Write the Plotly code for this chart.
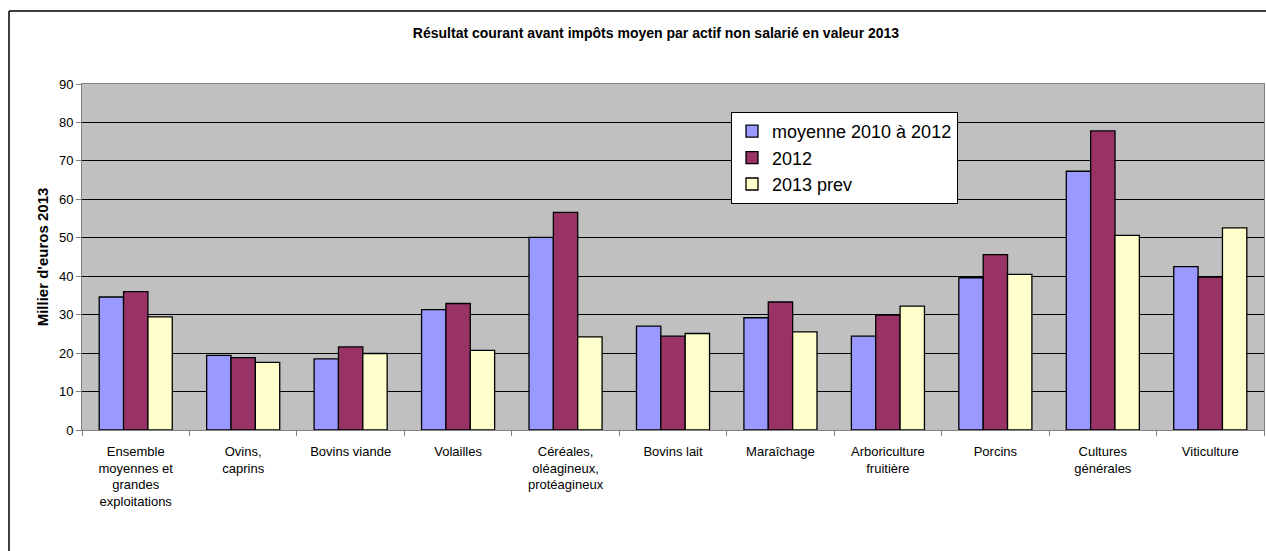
import plotly.graph_objects as go

categories = [
    "Ensemble<br>moyennes et<br>grandes<br>exploitations",
    "Ovins,<br>caprins",
    "Bovins viande",
    "Volailles",
    "Céréales,<br>oléagineux,<br>protéagineux",
    "Bovins lait",
    "Maraîchage",
    "Arboriculture<br>fruitière",
    "Porcins",
    "Cultures<br>générales",
    "Viticulture",
]
moyenne_2010_2012 = [34.6, 19.4, 18.5, 31.3, 50.1, 27.0, 29.2, 24.4, 39.6, 67.3, 42.5]
val_2012 = [36.0, 18.8, 21.6, 32.9, 56.6, 24.4, 33.3, 29.9, 45.6, 77.8, 39.8]
val_2013_prev = [29.4, 17.6, 19.9, 20.7, 24.2, 25.1, 25.5, 32.2, 40.5, 50.6, 52.6]
series_names = ["moyenne 2010 à 2012", "2012", "2013 prev"]
colors = ["#9999FF", "#993366", "#FFFFCC"]
y_ticks = [0, 10, 20, 30, 40, 50, 60, 70, 80, 90]

FONT = "Liberation Sans, Arial, sans-serif"

fig = go.Figure()
for name, vals, col in zip(series_names, [moyenne_2010_2012, val_2012, val_2013_prev], colors):
    fig.add_trace(go.Bar(
        x=categories, y=vals, name=name,
        marker=dict(color=col, line=dict(color="black", width=1.3)),
    ))

W, H = 1266, 551
L, R, T, B = 82, 2, 84, 121
pw, ph = W - L - R, H - T - B

def px2x(px):
    return (px - L) / pw

def py2y(py):
    return (H - B - py) / ph

frame_line = dict(color="black", width=1.5)

fig.update_layout(
    width=W, height=H,
    margin=dict(l=L, r=R, t=T, b=B),
    paper_bgcolor="white",
    plot_bgcolor="#C0C0C0",
    barmode="group",
    bargap=0.32,
    bargroupgap=0,
    font=dict(family=FONT, size=13, color="black"),
    title=dict(
        text="<b>Résultat courant avant impôts moyen par actif non salarié en valeur 2013</b>",
        x=656 / W, xanchor="center", xref="container",
        y=1 - 33 / H, yanchor="middle", yref="container",
        font=dict(family=FONT, size=14, color="black"),
    ),
    showlegend=True,
    legend=dict(
        x=px2x(731), y=py2y(112), xanchor="left", yanchor="top",
        bgcolor="white", bordercolor="black", borderwidth=1,
        font=dict(family=FONT, size=18, color="black"),
        traceorder="normal",
        itemwidth=30,
    ),
    xaxis=dict(
        type="category",
        tickson="boundaries",
        ticks="outside", ticklen=5, tickcolor="#808080",
        showline=True, linecolor="#808080", linewidth=1, mirror=True,
        showgrid=False,
        tickfont=dict(family=FONT, size=13, color="black"),
        ticklabelstandoff=9,
    ),
    yaxis=dict(
        range=[0, 90],
        tickvals=y_ticks,
        ticks="outside", ticklen=5, tickcolor="#808080",
        showline=True, linecolor="#808080", linewidth=1, mirror=True,
        showgrid=True, gridcolor="black", gridwidth=1,
        zeroline=False,
        tickfont=dict(family=FONT, size=13, color="black"),
        title=dict(text="<b>Millier d'euros 2013</b>", font=dict(family=FONT, size=15, color="black"), standoff=6),
    ),
    shapes=[
        dict(type="line", xref="paper", yref="paper",
             x0=px2x(9), x1=px2x(9), y0=py2y(700), y1=py2y(11),
             line=frame_line, layer="below"),
        dict(type="line", xref="paper", yref="paper",
             x0=px2x(9), x1=px2x(1400), y0=py2y(11), y1=py2y(11),
             line=frame_line, layer="below"),
    ],
)

fig.write_html("out.html")
